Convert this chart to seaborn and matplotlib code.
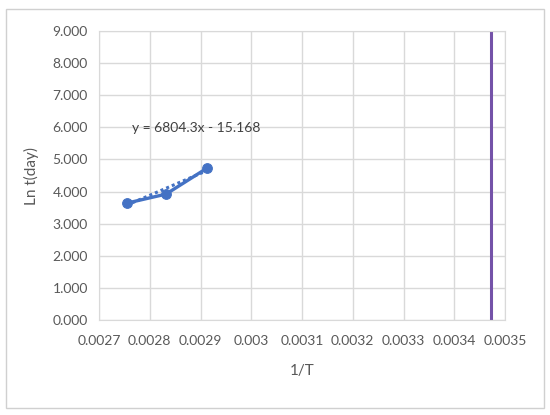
import matplotlib
matplotlib.use("Agg")
import matplotlib.pyplot as plt
from matplotlib.patches import Rectangle
import seaborn as sns
import numpy as np
import pandas as pd

# Data
inv_t = [0.002755, 0.002832, 0.002913]
ln_t = [3.64, 3.92, 4.73]
ref_x = [0.003472, 0.003472]
ref_y = [0.0, 9.0]
slope, intercept = 6804.3, -15.168
eq_label = "y = 6804.3x - 15.168"
x_ticks = [0.0027, 0.0028, 0.0029, 0.003, 0.0031, 0.0032, 0.0033, 0.0034, 0.0035]
x_labels = ["0.0027", "0.0028", "0.0029", "0.003", "0.0031", "0.0032", "0.0033", "0.0034", "0.0035"]
y_ticks = np.arange(0, 10, 1)

sns.set_style("white")
plt.rcParams["font.family"] = ["Lato", "DejaVu Sans"]
text_col = "#595959"
grid_col = "#d9d9d9"

fig = plt.figure(figsize=(5.5, 4.15), dpi=100)
fig.patches.append(Rectangle((6 / 550, 1 - 408 / 415), 538 / 550, 399 / 415,
                             transform=fig.transFigure, fill=False,
                             edgecolor="#d0d0d0", linewidth=1))
ax = fig.add_axes([99 / 550, 1 - 320 / 415, 406 / 550, 289 / 415])

df = pd.DataFrame({"x": inv_t, "y": ln_t})
sns.lineplot(data=df, x="x", y="y", ax=ax, color="#4472C4", linewidth=2.4,
             marker="o", markersize=7, markeredgecolor="#4472C4", zorder=3)

# linear trendline (dotted)
tx = np.array([inv_t[0], inv_t[-1]])
ax.plot(tx, slope * tx + intercept, color="#4472C4", linewidth=2.2,
        linestyle=(0, (1, 1)), zorder=2)

ref = pd.DataFrame({"x": ref_x, "y": ref_y})
sns.lineplot(data=ref, x="x", y="y", ax=ax, color="#7452A8", linewidth=2.2,
             estimator=None, sort=False)

ax.text(0.002766, 5.98, eq_label, fontsize=10, color="#404040", va="center")

ax.set_xlim(0.0027, 0.0035)
ax.set_ylim(0, 9)
ax.set_xticks(x_ticks)
ax.set_xticklabels(x_labels)
ax.set_yticks(y_ticks)
ax.set_yticklabels([f"{v:.3f}" for v in y_ticks])
ax.tick_params(colors=text_col, labelsize=10, length=0, pad=8)
ax.tick_params(axis="x", pad=11)
ax.grid(True, color=grid_col, linewidth=1)
for s in ax.spines.values():
    s.set_color(grid_col)
ax.set_xlabel("1/T", color=text_col, fontsize=11, labelpad=12)
ax.set_ylabel("Ln t(day)", color=text_col, fontsize=11, labelpad=10)

fig.savefig("out.png", dpi=100)
